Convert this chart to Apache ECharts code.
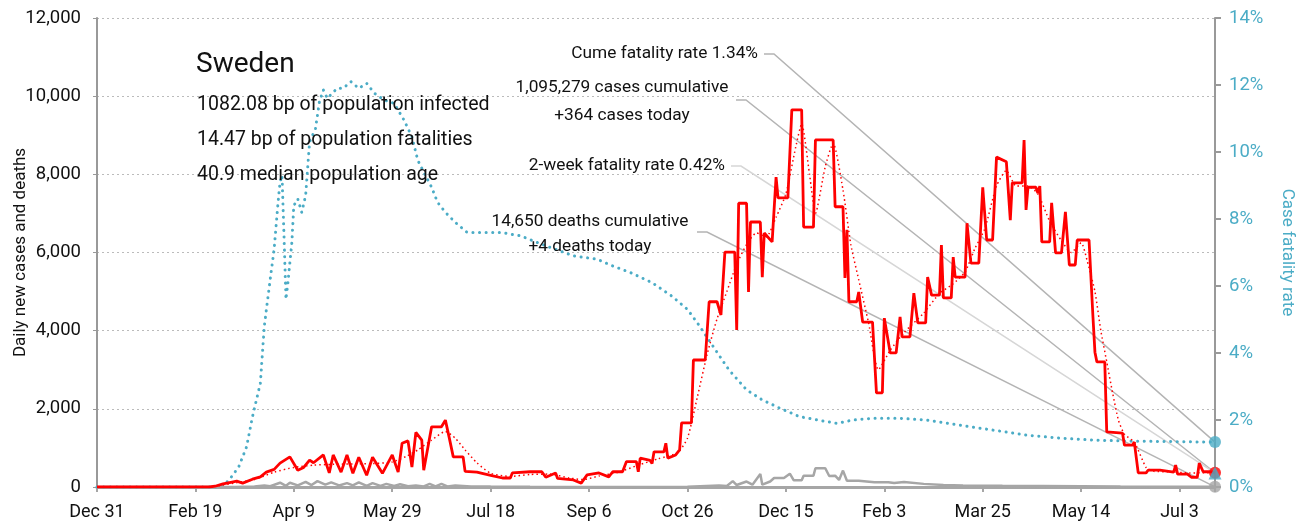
<!DOCTYPE html>
<html>
<head>
<meta charset="utf-8">
<title>Sweden</title>
<script src="https://cdn.jsdelivr.net/npm/echarts@6/dist/echarts.min.js"></script>
<style>
  html, body { margin: 0; padding: 0; background: #fff; }
  #chart { width: 1306px; height: 527px; }
</style>
</head>
<body>
<div id="chart"></div>
<script>
// day 0 = Dec 31 2019
var lastDay = 568
var tickLabels = ['Dec 31', 'Feb 19', 'Apr 9', 'May 29', 'Jul 18', 'Sep 6', 'Oct 26', 'Dec 15', 'Feb 3', 'Mar 25', 'May 14', 'Jul 3']

var casesDaily = [[0,0],[57,0],[60,20],[64,80],[68,120],[71,150],[74,100],[79,200],[83,260],[86,380],[90,450],[93,610],[94,560],[98,770],[102,430],[105,500],[108,690],[110,620],[115,820],[118,360],[120,820],[124,380],[127,820],[130,350],[133,760],[137,300],[140,760],[145,350],[150,820],[153,380],[155,1120],[158,1180],[160,510],[162,1400],[165,1200],[166,430],[170,1540],[175,1540],[177,1710],[179,1250],[181,770],[186,770],[187,400],[193,380],[200,300],[206,230],[210,230],[211,360],[220,390],[226,390],[228,250],[233,360],[234,220],[242,180],[246,100],[249,310],[255,360],[260,260],[262,390],[267,390],[269,650],[274,650],[275,390],[276,740],[281,680],[282,600],[283,900],[288,900],[289,1120],[290,740],[294,820],[296,950],[297,1640],[302,1640],[303,3250],[309,3250],[311,4740],[315,4740],[317,4400],[319,6010],[324,6010],[325,4020],[326,7260],[330,7260],[331,4990],[332,6780],[337,6780],[338,5370],[339,6500],[343,6270],[345,7930],[346,7400],[351,7400],[353,9650],[358,9650],[359,6650],[364,6650],[365,8880],[374,8880],[375,7170],[379,7170],[380,5350],[381,6580],[382,4740],[386,4740],[387,4990],[389,4220],[394,4220],[396,2410],[399,2410],[400,4320],[403,3430],[406,3430],[408,4350],[409,3840],[413,3840],[415,4960],[417,4200],[421,4200],[422,5370],[424,4910],[428,4910],[429,6190],[430,4840],[434,4840],[435,5880],[436,5370],[441,5370],[442,6750],[444,5730],[448,5730],[450,7670],[451,7670],[452,6320],[455,6320],[457,8440],[462,8320],[464,6830],[465,7780],[470,7780],[471,8880],[472,7090],[473,7670],[477,7670],[478,7520],[479,7700],[480,6270],[484,6270],[485,7270],[487,5990],[490,5990],[492,7040],[494,5680],[497,5680],[498,6320],[504,6320],[506,4350],[507,3450],[508,3200],[512,3200],[513,1410],[521,1380],[522,1070],[526,1070],[527,1150],[529,360],[533,360],[534,430],[540,430],[541,380],[547,380],[548,560],[549,330],[554,330],[556,250],[559,250],[560,610],[562,390],[566,390],[568,364]]

var casesAvg = [[0,0],[57,5],[64,50],[71,110],[80,190],[90,380],[100,500],[110,560],[120,580],[130,590],[140,600],[150,640],[157,780],[163,950],[170,1200],[177,1420],[182,1250],[187,950],[193,620],[200,350],[210,270],[220,320],[230,330],[240,230],[247,190],[255,280],[265,380],[275,560],[285,720],[295,880],[300,1250],[305,2300],[310,3400],[315,4300],[320,5000],[325,5700],[330,6200],[335,6500],[340,6400],[345,6900],[350,7500],[355,8700],[358,9300],[362,8000],[365,7000],[370,8200],[374,8800],[379,7600],[383,6200],[387,5300],[392,4200],[397,3000],[403,3500],[410,3950],[420,4450],[428,4950],[435,5200],[441,5500],[446,6100],[451,6600],[457,7700],[462,8100],[467,7700],[473,7700],[478,7500],[484,6800],[490,6300],[495,6000],[500,6250],[503,5800],[507,5000],[510,4000],[513,3200],[516,2400],[519,1700],[522,1350],[527,1150],[533,500],[537,400],[545,390],[555,360],[568,370]]

var deathsDaily = [[0,0],[70,0],[80,10],[85,40],[88,20],[93,110],[96,30],[98,110],[102,40],[106,130],[109,50],[112,150],[116,60],[119,120],[123,40],[127,100],[130,40],[133,120],[137,30],[140,100],[144,30],[147,80],[151,25],[154,70],[158,20],[162,40],[166,15],[169,80],[172,15],[175,80],[178,15],[182,40],[190,15],[200,10],[220,5],[260,3],[300,5],[316,40],[320,25],[323,150],[325,50],[330,140],[333,60],[337,330],[338,60],[342,140],[344,230],[349,230],[352,340],[354,170],[358,170],[359,290],[364,290],[365,480],[370,480],[372,280],[375,290],[377,180],[379,420],[381,160],[387,160],[395,120],[402,120],[405,100],[410,130],[420,80],[430,50],[440,40],[460,30],[480,25],[500,20],[520,10],[540,5],[568,4]]

var cfrPct = [[0,0],[63,0],[67,0.2],[72,0.6],[76,1.2],[79,2.1],[83,3.1],[85,4.8],[88,6.2],[90,7.1],[92,8.5],[93,9.1],[94,9.3],[95,7.5],[96,5.6],[97,6.1],[99,7.3],[100,8.4],[102,8.6],[104,8.2],[106,8.7],[107,9.5],[108,10.3],[111,10.7],[113,11.5],[115,11.85],[117,11.6],[122,11.9],[125,11.9],[129,12.1],[133,11.9],[137,12.05],[141,11.75],[146,11.55],[151,11.45],[156,10.95],[160,10.45],[163,9.75],[166,9.4],[170,8.95],[173,8.5],[177,8.2],[182,7.9],[188,7.6],[197,7.6],[205,7.6],[215,7.5],[228,7.2],[242,6.9],[254,6.8],[262,6.6],[271,6.4],[282,6.1],[292,5.7],[300,5.3],[305,4.9],[313,4.2],[321,3.5],[330,2.9],[338,2.6],[347,2.35],[357,2.1],[366,2.0],[376,1.9],[384,2.0],[394,2.05],[408,2.05],[421,2.0],[438,1.85],[455,1.7],[472,1.55],[489,1.46],[506,1.4],[524,1.37],[568,1.34]]

var cumeFatality = 1.34
var twoWeekFatality = 0.42
var casesToday = 364
var deathsToday = 4

var statLines = ['1082.08 bp of population infected', '14.47 bp of population fatalities', '40.9 median population age']

var FONT = "Roboto, sans-serif"
var BLUE = '#4bacc6'
var GREY = '#a6a6a6'

var chart = echarts.init(document.getElementById('chart'))

function fmtNum(v) {
  return String(v).replace(/\B(?=(\d{3})+(?!\d))/g, ',')
}

chart.setOption({
  animation: false,
  textStyle: { fontFamily: FONT },
  grid: { left: 97, right: 91, top: 18, bottom: 40, outerBoundsMode: 'none' },
  xAxis: {
    type: 'value',
    min: 0,
    max: lastDay,
    interval: 50,
    axisLine: { lineStyle: { color: GREY, width: 3 } },
    axisTick: { length: 5, lineStyle: { color: GREY, width: 2 } },
    axisLabel: {
      color: '#111',
      fontSize: 18,
      fontFamily: FONT,
      margin: 16,
      formatter: function (v) {
        return v % 50 === 0 ? tickLabels[v / 50] : ''
      }
    },
    splitLine: { show: false }
  },
  yAxis: [{
    type: 'value',
    min: 0,
    max: 12000,
    interval: 2000,
    name: 'Daily new cases and deaths',
    nameLocation: 'middle',
    nameGap: 68,
    nameMoveOverlap: false,
    nameTextStyle: { color: '#111', fontSize: 17, fontFamily: FONT },
    axisLine: { show: true, lineStyle: { color: '#999', width: 2 } },
    axisTick: { show: true, length: 4, lineStyle: { color: '#999' } },
    axisLabel: { color: '#111', fontSize: 18.5, fontFamily: FONT, margin: 16, formatter: function (v) { return fmtNum(v) } },
    splitLine: { lineStyle: { color: '#bbb', type: [2, 3], width: 1 } }
  }, {
    type: 'value',
    min: 0,
    max: 14,
    interval: 2,
    name: 'Case fatality rate',
    nameLocation: 'middle',
    nameGap: 64,
    nameRotate: -90,
    nameTextStyle: { color: BLUE, fontSize: 17, fontFamily: FONT },
    axisLine: { show: true, lineStyle: { color: '#999', width: 2 } },
    axisTick: { show: true, length: 6, lineStyle: { color: '#999', width: 2 } },
    axisLabel: { color: BLUE, fontSize: 18.5, fontFamily: FONT, margin: 14, formatter: '{value}%' },
    splitLine: { show: false }
  }],
  series: [
    {
      name: 'cfr', type: 'line', yAxisIndex: 1, data: cfrPct, showSymbol: false,
      lineStyle: { color: BLUE, width: 3, type: [0.1, 6.5], cap: 'round' }, z: 2
    },
    {
      name: 'deaths', type: 'line', data: deathsDaily, showSymbol: false,
      lineStyle: { color: GREY, width: 2.5 }, z: 3
    },
    {
      name: 'cases', type: 'line', data: casesDaily, showSymbol: false,
      lineStyle: { color: '#ff0000', width: 2.8 }, z: 4
    },
    {
      name: 'casesAvg', type: 'line', data: casesAvg, showSymbol: false, smooth: 0.2,
      lineStyle: { color: '#ff0000', width: 1.5, type: [1.5, 3] }, z: 5
    },
    {
      name: 'endDeaths', type: 'scatter', data: [[lastDay, deathsToday]], symbol: 'circle', symbolSize: 12,
      itemStyle: { color: GREY }, clip: false, z: 6
    },
    {
      name: 'endCases', type: 'scatter', data: [[lastDay, casesToday]], symbol: 'circle', symbolSize: 12,
      itemStyle: { color: '#ff0000' }, clip: false, z: 6
    },
    {
      name: 'endTwoWeek', type: 'scatter', yAxisIndex: 1, data: [[lastDay, twoWeekFatality]], symbol: 'triangle', symbolSize: 13,
      itemStyle: { color: BLUE }, clip: false, z: 7
    },
    {
      name: 'endCume', type: 'scatter', yAxisIndex: 1, data: [[lastDay, cumeFatality]], symbol: 'circle', symbolSize: 12,
      itemStyle: { color: BLUE }, clip: false, z: 7
    }
  ]
})

// annotation texts with leader lines to the end markers
var pCume = chart.convertToPixel({ seriesIndex: 7 }, [lastDay, cumeFatality])
var pTwo = chart.convertToPixel({ seriesIndex: 6 }, [lastDay, twoWeekFatality])
var pCases = chart.convertToPixel({ seriesIndex: 5 }, [lastDay, casesToday])
var pDeaths = chart.convertToPixel({ seriesIndex: 4 }, [lastDay, deathsToday])

function leader(x0, y0, p, color) {
  return {
    type: 'polyline', silent: true, z: 1,
    shape: { points: [[x0, y0], [x0 + 10, y0], p] },
    style: { stroke: color, lineWidth: 1.5, fill: null }
  }
}

function label(text, x, y, size, align) {
  return {
    type: 'text', silent: true, z: 10,
    style: { text: text, x: x, y: y, fill: '#111', font: size + 'px ' + FONT, align: align || 'left', verticalAlign: 'middle' }
  }
}

chart.setOption({
  graphic: [
    leader(764, 54, pCume, '#b4b4b4'),
    leader(736, 100, pCases, '#b4b4b4'),
    leader(731, 166, pTwo, '#d6d6d6'),
    leader(697, 232, pDeaths, '#b4b4b4'),
    label('Sweden', 196, 65, 28),
    label(statLines[0], 197, 105, 19.5),
    label(statLines[1], 197, 140, 19.5),
    label(statLines[2], 197, 175, 19.5),
    label('Cume fatality rate ' + cumeFatality.toFixed(2) + '%', 758, 54, 17.3, 'right'),
    label(fmtNum(1095279) + ' cases cumulative', 622, 88, 17.3, 'center'),
    label('+' + casesToday + ' cases today', 622, 116, 17.3, 'center'),
    label('2-week fatality rate ' + twoWeekFatality.toFixed(2) + '%', 725, 166, 17.3, 'right'),
    label(fmtNum(14650) + ' deaths cumulative', 590, 222, 17.3, 'center'),
    label('+' + deathsToday + ' deaths today', 590, 247, 17.3, 'center')
  ]
})
</script>
</body>
</html>
